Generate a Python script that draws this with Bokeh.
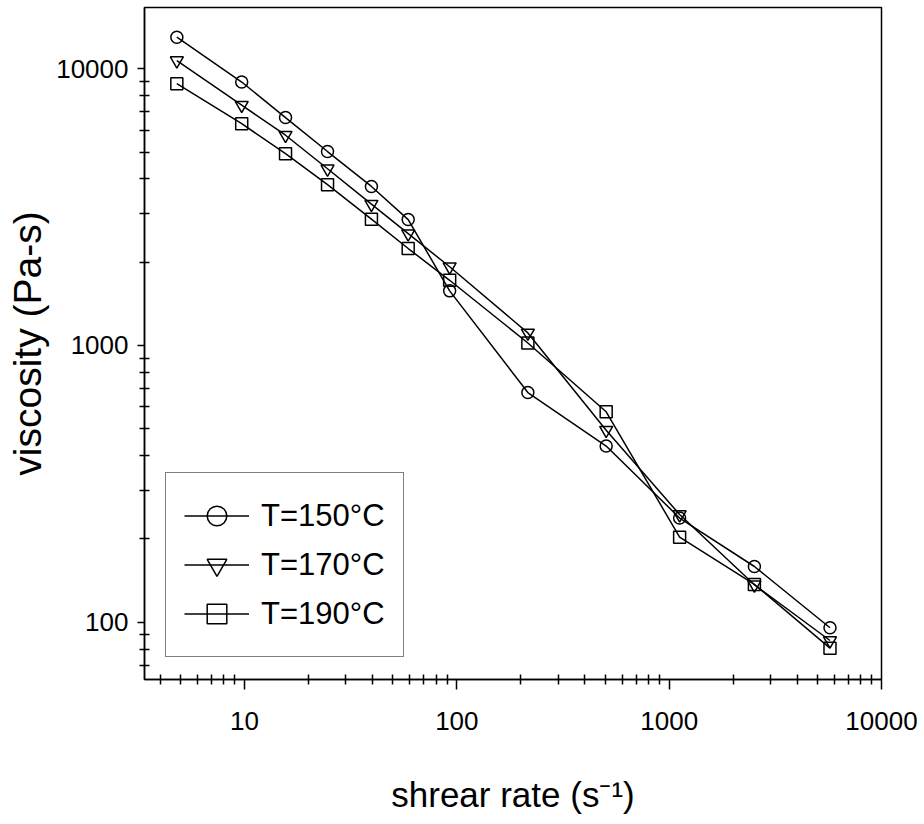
from bokeh.plotting import figure
from bokeh.models import FixedTicker, Legend, LegendItem, Range1d
from bokeh.embed import file_html
from bokeh.resources import INLINE

# ---- data ----
shear_rate = [4.8, 9.7, 15.6, 24.6, 39.6, 59, 92.5, 216, 505, 1120, 2520, 5720]
visc_150 = [13000, 8950, 6660, 5020, 3755, 2850, 1575, 676, 433, 238, 159, 95.5]
visc_170 = [10700, 7380, 5750, 4350, 3240, 2535, 1925, 1110, 494, 245, 136.6, 85.9]
visc_190 = [8830, 6330, 4930, 3810, 2860, 2240, 1720, 1021, 576, 203, 137, 80.6]
series_labels = ["T=150°C", "T=170°C", "T=190°C"]

x_title = "shrear rate (s\u207b\u00b9)"
y_title = "viscosity (Pa-s)"

x_major = [10, 100, 1000, 10000]
x_major_labels = ["10", "100", "1000", "10000"]
x_minor = [m * 10 ** k for k in range(0, 4) for m in range(2, 10)] + [3, 4]
y_major = [100, 1000, 10000]
y_major_labels = ["100", "1000", "10000"]
y_minor = [m * 10 ** k for k in range(1, 4) for m in range(2, 10)]

FONT = "Liberation Sans"

p = figure(width=924, height=824, x_axis_type="log", y_axis_type="log",
           x_range=Range1d(3.38, 10000), y_range=Range1d(62.1, 16640),
           output_backend="svg", toolbar_location=None)
p.min_border_left = 144
p.min_border_right = 43
p.min_border_top = 7
p.min_border_bottom = 145
p.background_fill_color = "white"
p.border_fill_color = "white"
p.outline_line_color = "black"
p.outline_line_width = 1.5
p.xgrid.visible = False
p.ygrid.visible = False

# axes
p.xaxis.ticker = FixedTicker(ticks=x_major, minor_ticks=x_minor)
p.yaxis.ticker = FixedTicker(ticks=y_major, minor_ticks=y_minor)
p.xaxis.major_label_overrides = {t: l for t, l in zip(x_major, x_major_labels)}
p.yaxis.major_label_overrides = {t: l for t, l in zip(y_major, y_major_labels)}
for ax in (p.xaxis[0], p.yaxis[0]):
    ax.axis_line_color = "black"
    ax.axis_line_width = 1.5
    ax.major_tick_line_color = "black"
    ax.major_tick_line_width = 1.5
    ax.minor_tick_line_color = "black"
    ax.minor_tick_line_width = 1.5
    ax.major_tick_in = 0
    ax.minor_tick_in = 5
    ax.minor_tick_out = 5
    ax.major_label_text_font = FONT
    ax.major_label_text_font_size = "26px"
    ax.major_label_text_color = "black"
    ax.axis_label_text_font = FONT
    ax.axis_label_text_font_style = "normal"
    ax.axis_label_text_color = "black"
p.xaxis.major_tick_out = 10
p.yaxis.major_tick_out = 7
p.xaxis.major_label_standoff = 22
p.yaxis.major_label_standoff = 9
p.xaxis.axis_label = x_title
p.xaxis.axis_label_text_font_size = "35px"
p.xaxis.axis_label_standoff = 42
p.yaxis.axis_label = y_title
p.yaxis.axis_label_text_font_size = "39px"
p.yaxis.axis_label_standoff = 4

# data series
markers = ["circle", "inverted_triangle", "square"]
sizes = [12, 13, 12]
series = [visc_150, visc_170, visc_190]
items = []
for lab, vals, mk, sz in zip(series_labels, series, markers, sizes):
    lr = p.line(shear_rate, vals, line_color="black", line_width=1.5)
    sr = p.scatter(shear_rate, vals, marker=mk, size=sz, fill_color=None,
                   line_color="black", line_width=1.5)
    items.append(LegendItem(label=lab, renderers=[lr, sr]))

legend = Legend(items=items, location=(21, 22))
legend.border_line_color = "black"
legend.border_line_width = 1.5
legend.background_fill_color = "white"
legend.background_fill_alpha = 1.0
legend.label_text_font = FONT
legend.label_text_font_size = "31px"
legend.label_text_color = "black"
legend.glyph_width = 65
legend.glyph_height = 49
legend.label_height = 49
legend.label_standoff = 12
legend.spacing = 0
legend.padding = 18
legend.margin = 0
p.add_layout(legend)

open("out.html", "w").write(file_html(p, INLINE))
